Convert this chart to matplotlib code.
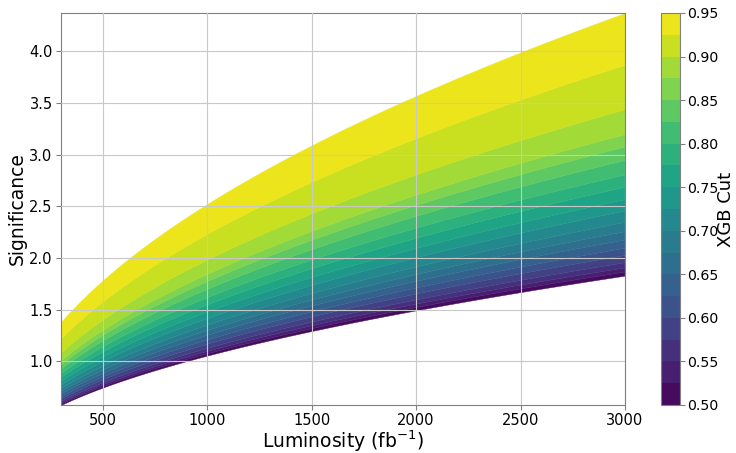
import numpy as np
import matplotlib
matplotlib.use("Agg")
import matplotlib.pyplot as plt
from matplotlib.colors import ListedColormap, BoundaryNorm
from matplotlib.cm import ScalarMappable

# XGB cut boundaries and significance at 3000 fb^-1 for each boundary
xgb_cuts = [0.500, 0.525, 0.550, 0.575, 0.600, 0.625, 0.650, 0.675, 0.700, 0.725,
            0.750, 0.775, 0.800, 0.825, 0.850, 0.875, 0.900, 0.925, 0.950]
sig_at_3000 = [1.83, 1.87, 1.91, 1.96, 2.03, 2.10, 2.18, 2.26, 2.35, 2.46,
               2.57, 2.69, 2.81, 2.95, 3.08, 3.20, 3.44, 3.87, 4.37]
ref_lumi = 3000.0
lumi = np.linspace(300, 3000, 400)
cbar_ticks = [0.50, 0.55, 0.60, 0.65, 0.70, 0.75, 0.80, 0.85, 0.90, 0.95]
x_ticks = [500, 1000, 1500, 2000, 2500, 3000]
y_ticks = [1.0, 1.5, 2.0, 2.5, 3.0, 3.5, 4.0]

fig = plt.figure(figsize=(7.36, 4.53), dpi=100)
W, H = 736, 453
ax = fig.add_axes([61 / W, (H - 405) / H, (625 - 61) / W, (405 - 13) / H])
cax = fig.add_axes([661 / W, (H - 405) / H, 19 / W, (405 - 13) / H])

nb = len(xgb_cuts) - 1
base = plt.get_cmap("viridis")
band_colors = [base((i + 0.5) / nb) for i in range(nb)]
cmap = ListedColormap(band_colors)
norm = BoundaryNorm(xgb_cuts, nb)

scale = np.sqrt(lumi / ref_lumi)
for i in range(nb):
    lo = sig_at_3000[i] * scale
    hi = sig_at_3000[i + 1] * scale
    ax.fill_between(lumi, lo, hi, color=band_colors[i], linewidth=0.3,
                    edgecolor=band_colors[i], zorder=1)

ax.set_xlim(300, 3000)
ax.set_ylim(sig_at_3000[0] * np.sqrt(300 / ref_lumi), sig_at_3000[-1])
ax.set_xticks(x_ticks)
ax.set_yticks(y_ticks)
ax.tick_params(labelsize=10.5, colors="black", length=3.5, width=0.8, pad=2.5)
ax.tick_params(axis="both", color="#808080")
ax.grid(True, color="#c8c8c8", linewidth=0.8, zorder=3)
ax.set_axisbelow(False)
for s in ax.spines.values():
    s.set_color("#808080")
ax.set_xlabel(r"Luminosity (fb$^{-1}$)", fontsize=13.5, labelpad=0)
ax.set_ylabel("Significance", fontsize=13.5, labelpad=2)

sm = ScalarMappable(norm=norm, cmap=cmap)
cb = fig.colorbar(sm, cax=cax, ticks=cbar_ticks)
cb.ax.minorticks_off()
cb.ax.set_yticklabels([f"{t:.2f}" for t in cbar_ticks])
cb.ax.tick_params(labelsize=10.2, color="#808080", length=3.5, pad=1.5)
cb.outline.set_edgecolor("#808080")
cb.set_label("XGB Cut", fontsize=13, labelpad=-1)

fig.savefig("out.png", dpi=100)
